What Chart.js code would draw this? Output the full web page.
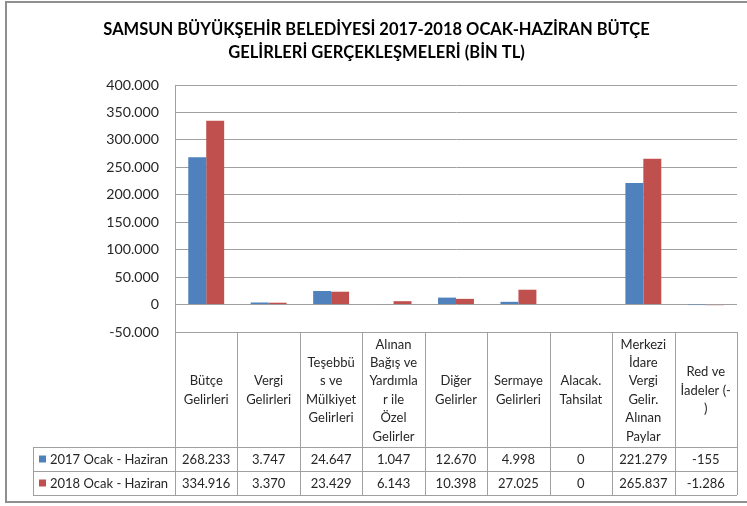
<!DOCTYPE html>
<html><head><meta charset="utf-8">
<script src="https://cdn.jsdelivr.net/npm/chart.js@4.4.1/dist/chart.umd.min.js"></script>
<style>html,body{margin:0;padding:0;background:#fff;overflow:hidden;}canvas{display:block;}</style>
</head><body>
<canvas id="c" width="747" height="506"></canvas>
<script>
const titleLines = ["SAMSUN BÜYÜKŞEHİR BELEDİYESİ 2017-2018 OCAK-HAZİRAN BÜTÇE", "GELİRLERİ GERÇEKLEŞMELERİ (BİN TL)"];
const categories = [
  ["Bütçe", "Gelirleri"],
  ["Vergi", "Gelirleri"],
  ["Teşebbü", "s ve", "Mülkiyet", "Gelirleri"],
  ["Alınan", "Bağış ve", "Yardımla", "r ile", "Özel", "Gelirler"],
  ["Diğer", "Gelirler"],
  ["Sermaye", "Gelirleri"],
  ["Alacak.", "Tahsilat"],
  ["Merkezi", "İdare", "Vergi", "Gelir.", "Alınan", "Paylar"],
  ["Red ve", "İadeler (-", ")"]
];
const seriesNames = ["2017 Ocak - Haziran", "2018 Ocak - Haziran"];
const values2017 = [268233, 3747, 24647, 1047, 12670, 4998, 0, 221279, -155];
const values2018 = [334916, 3370, 23429, 6143, 10398, 27025, 0, 265837, -1286];
const yTickValues = [-50000, 0, 50000, 100000, 150000, 200000, 250000, 300000, 350000, 400000];
const seriesColors = ["#4F81BD", "#C0504D"];

function fmt(v) {
  const neg = v < 0;
  let s = String(Math.abs(Math.round(v)));
  let out = "";
  while (s.length > 3) { out = "." + s.slice(-3) + out; s = s.slice(0, -3); }
  return (neg ? "-" : "") + s + out;
}

const FONT = "Lato";
const TEXT = "#262626";
const LINE = "#a0a0a0";

const tablePlugin = {
  id: "dataTable",
  beforeDraw(chart) {
    const ctx = chart.ctx;
    ctx.save();
    ctx.fillStyle = "#fff";
    ctx.fillRect(0, 0, chart.width, chart.height);
    ctx.strokeStyle = "#8f8f8f";
    ctx.lineWidth = 2;
    ctx.strokeRect(6, 2, 800, 500);
    ctx.restore();
  },
  afterDraw(chart) {
    const ctx = chart.ctx;
    const xs = chart.scales.x;
    const area = chart.chartArea;
    const n = categories.length;
    const colW = (area.right - area.left) / n;
    const top = area.bottom;
    const hdrBottom = top + 115;
    const row1 = hdrBottom + 24;
    const row2 = row1 + 24;
    const legL = 33;
    ctx.save();
    ctx.strokeStyle = LINE;
    ctx.lineWidth = 1;
    ctx.beginPath();
    for (let i = 0; i <= n; i++) {
      const x = Math.round(area.left + i * colW) + 0.5;
      ctx.moveTo(x, top); ctx.lineTo(x, row2);
    }
    [hdrBottom, row1, row2].forEach(y => {
      ctx.moveTo(legL, Math.round(y) + 0.5); ctx.lineTo(area.right, Math.round(y) + 0.5);
    });
    ctx.moveTo(legL + 0.5, hdrBottom); ctx.lineTo(legL + 0.5, row2);
    ctx.stroke();

    ctx.fillStyle = TEXT;
    ctx.font = "13px " + FONT;
    ctx.textAlign = "center";
    ctx.textBaseline = "middle";
    const lh = 18.4;
    const hc = (top + hdrBottom) / 2 + 1;
    categories.forEach((lines, i) => {
      const cx = xs.getPixelForValue(i);
      const y0 = hc - (lines.length - 1) * lh / 2;
      lines.forEach((t, k) => ctx.fillText(t, cx, y0 + k * lh));
    });
    const rows = [values2017, values2018];
    const rowCenters = [(hdrBottom + row1) / 2, (row1 + row2) / 2];
    rows.forEach((vals, r) => {
      vals.forEach((v, i) => ctx.fillText(fmt(v), xs.getPixelForValue(i), rowCenters[r] + 0.5));
      ctx.fillStyle = seriesColors[r];
      ctx.fillRect(legL + 6, Math.round(rowCenters[r]) - 3.5, 7, 7);
      ctx.fillStyle = TEXT;
      ctx.textAlign = "left";
      ctx.fillText(seriesNames[r], legL + 17, rowCenters[r] + 0.5);
      ctx.textAlign = "center";
    });
    ctx.restore();
  }
};

new Chart(document.getElementById("c"), {
  type: "bar",
  data: {
    labels: categories,
    datasets: [
      { label: seriesNames[0], data: values2017, backgroundColor: seriesColors[0], borderWidth: 0 },
      { label: seriesNames[1], data: values2018, backgroundColor: seriesColors[1], borderWidth: 0 }
    ]
  },
  options: {
    responsive: false,
    animation: false,
    devicePixelRatio: 1,
    layout: { padding: { left: 6, right: 0, top: 0, bottom: 174 } },
    datasets: { bar: { categoryPercentage: 0.575, barPercentage: 1.0 } },
    plugins: {
      legend: { display: false },
      tooltip: { enabled: false },
      title: {
        display: true,
        text: titleLines,
        color: "#000",
        font: { family: FONT, size: 16.5, weight: "bold", lineHeight: 23.3 / 16.5 },
        padding: { top: 18, bottom: 20.4 }
      }
    },
    scales: {
      x: {
        type: "category",
        offset: true,
        grid: { display: false },
        ticks: { display: false },
        border: { display: true, color: LINE },
        afterFit(s) { s.height = 0; }
      },
      y: {
        min: -50000,
        max: 400000,
        afterBuildTicks(s) { s.ticks = yTickValues.map(v => ({ value: v })); },
        ticks: { callback: v => fmt(v), padding: 16, color: TEXT, font: { family: FONT, size: 14.2 } },
        grid: { color: LINE, drawTicks: false },
        border: { display: true, color: LINE },
        afterFit(s) { s.width = 169; }
      },
      y2: {
        type: "linear",
        position: "right",
        display: true,
        grid: { display: false },
        ticks: { display: false },
        border: { display: false },
        afterFit(s) { s.width = 10; }
      }
    }
  },
  plugins: [tablePlugin]
});
</script>
</body></html>
